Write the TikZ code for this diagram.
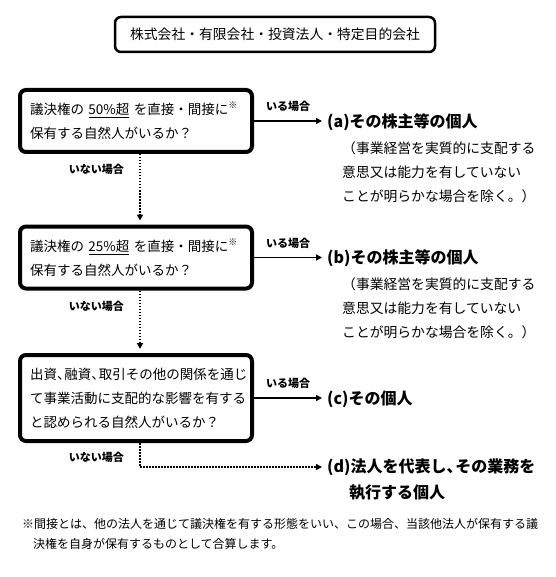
\documentclass[tikz,border=0pt]{standalone}
\usepackage{fontspec}
\setmainfont{Noto Sans CJK JP}
\usetikzlibrary{arrows.meta}
\newcommand{\kome}{\raisebox{.45em}{\fontsize{9}{9}\selectfont ※}}
\newcommand{\hcomma}{\makebox[.55em][l]{、}}

\begin{document}
\begin{tikzpicture}[x=1pt,y=-1pt,
    qbox/.style={draw, line width=4pt, rounded corners=6pt, text width=212pt, align=left,
        inner xsep=10pt, minimum height=62pt, font=\fontsize{13.5}{24}\selectfont},
    tag/.style={font=\bfseries\fontsize{11}{11}\selectfont},
    ans/.style={anchor=west, inner xsep=5pt, inner ysep=2pt, font=\bfseries\fontsize{16}{26}\selectfont},
    note/.style={anchor=north west, inner sep=0pt, align=left, font=\fontsize{13.8}{24}\selectfont},
    yes/.style={line width=1.5pt, -{Triangle[length=6pt,width=6pt]}},
    no/.style={yes, dash pattern=on 1.5pt off 1.5pt}]
    \useasboundingbox (0,0) rectangle (555,577);
    \node [draw, line width=2.5pt, rounded corners=6pt, minimum width=320pt, minimum height=35pt,
        font=\fontsize{13.8}{14}\selectfont] (kind) at (275,34.5) {株式会社・有限会社・投資法人・特定目的会社};
    % questions
    \node [qbox] (q1) at (136,121) {議決権の \underline{50\%超} を直接・間接に\kome\\保有する自然人がいるか？};
    \node [qbox] (q2) at (136,257.5) {議決権の \underline{25\%超} を直接・間接に\kome\\保有する自然人がいるか？};
    \node [qbox, minimum height=86pt] (q3) at (136,398) {出資\hcomma 融資\hcomma 取引その他の関係を通じ\\て事業活動に支配的な影響を有する\\と認められる自然人がいるか？};
    % answers
    \node [ans] (a) at (322,122) {(a)その株主等の個人};
    \node [note] (ahint) at (342,141) {（事業経営を実質的に支配する\\意思又は能力を有していない\\ことが明らかな場合を除く。）};
    \node [ans] (b) at (322,258) {(b)その株主等の個人};
    \node [note] (bhint) at (342,277) {（事業経営を実質的に支配する\\意思又は能力を有していない\\ことが明らかな場合を除く。）};
    \node [ans] (c) at (322,399) {(c)その個人};
    \node [ans] (d) at (322,467) {(d)法人を代表し\hcomma その業務を};
    \node [ans] (d2) at (344,493) {執行する個人};
    % arrows
    \draw [yes] (q1.east) -- node [tag, above=5pt] {いる場合} (q1.east -| a.west);
    \draw [yes] (q2.east) -- node [tag, above=5pt] {いる場合} (q2.east -| b.west);
    \draw [yes] (q3.east) -- node [tag, above=5pt] {いる場合} (q3.east -| c.west);
    \draw [no, shorten >=4pt] ([xshift=4pt]q1.south) -- node [tag, left=12pt, pos=.22] {いない場合} ([xshift=4pt]q2.north);
    \draw [no, shorten >=4pt] ([xshift=4pt]q2.south) -- node [tag, left=12pt, pos=.25] {いない場合} ([xshift=4pt]q3.north);
    \draw [no] ([xshift=4pt]q3.south) |- node [tag, left=12pt, pos=.3] {いない場合} (d.west);
    % footnote
    \node [anchor=north west, inner sep=0pt, align=left, font=\fontsize{12}{20}\selectfont] (fn) at (22,518)
        {※間接とは、他の法人を通じて議決権を有する形態をいい、この場合、当該他法人が保有する議\\\hspace*{.9em}決権を自身が保有するものとして合算します。};
\end{tikzpicture}
\end{document}
